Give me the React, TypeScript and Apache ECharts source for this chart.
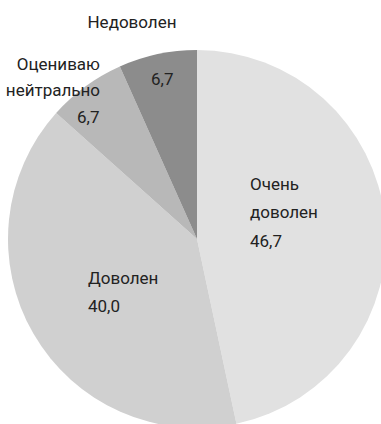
import React, { useEffect, useRef } from "react";
import * as echarts from "echarts";

const categories = ["Очень доволен", "Доволен", "Оцениваю нейтрально", "Недоволен"];
const values = [46.7, 40.0, 6.7, 6.7];
const colors = ["#e1e1e1", "#d0d0d0", "#b8b8b8", "#8c8c8c"];
// which labels show the name inside the slice (together with value)
const nameInside = [true, true, false, false];

const FONT = "'Roboto', sans-serif";
const FS = 17;
const fmt = (v: number) => v.toFixed(1).replace(".", ",");

// label placements (layout only)
const labelPos = [
  { x: 250, y: 212 },
  { x: 88, y: 292 },
  { x: 77, y: 117 },
  { x: 151, y: 79 },
];

export default function App() {
  const ref = useRef<HTMLDivElement>(null);
  useEffect(() => {
    if (!ref.current) return;
    const chart = echarts.init(ref.current, undefined, { renderer: "svg" });
    const data = categories.map((name, i) => ({
      name,
      value: values[i],
      itemStyle: { color: colors[i] },
    }));
    chart.setOption({
      animation: false,
      backgroundColor: "#ffffff",
      series: [
        {
          type: "pie",
          center: [197, 239],
          radius: 189,
          startAngle: 90,
          clockwise: true,
          data,
          itemStyle: { borderWidth: 0 },
          label: {
            show: true,
            position: "inside",
            fontFamily: FONT,
            fontSize: FS,
            color: "#222222",
            lineHeight: 28.5,
            formatter: (p: any) =>
              nameInside[p.dataIndex]
                ? p.name.replace(" ", "\n") + "\n" + fmt(p.value)
                : fmt(p.value),
          },
          labelLine: { show: false },
          labelLayout: (p: any) => ({
            x: labelPos[p.dataIndex].x,
            y: labelPos[p.dataIndex].y,
            align: "left",
            verticalAlign: "middle",
          }),
          emphasis: { disabled: true },
        },
      ],
      graphic: [
        {
          type: "text",
          z: 100,
          style: {
            text: categories[3],
            x: 132,
            y: 22,
            align: "center",
            verticalAlign: "middle",
            font: `${FS}px ${FONT}`,
            fill: "#222222",
          },
        },
        {
          type: "text",
          z: 100,
          style: {
            text: categories[2].replace(" ", "\n"),
            x: 100,
            y: 77,
            align: "right",
            verticalAlign: "middle",
            lineHeight: 26,
            font: `${FS}px ${FONT}`,
            fill: "#222222",
          },
        },
      ],
    });
    return () => chart.dispose();
  }, []);
  return (
    <div
      ref={ref}
      style={{ position: "fixed", left: 0, top: 0, width: 381, height: 424 }}
    />
  );
}
